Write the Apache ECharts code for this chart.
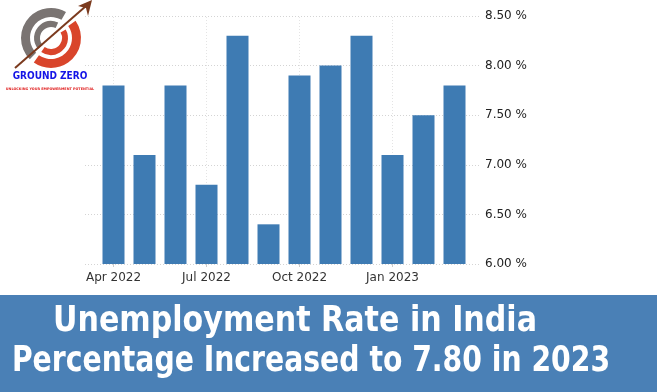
<!DOCTYPE html>
<html>
<head>
<meta charset="utf-8">
<script src="https://cdn.jsdelivr.net/npm/echarts@6/dist/echarts.min.js"></script>
<style>
html,body{margin:0;padding:0;background:#fff;}
#c{width:657px;height:392px;}
</style>
</head>
<body>
<div id="c"></div>
<script>
const categories = ['Apr 2022','May 2022','Jun 2022','Jul 2022','Aug 2022','Sep 2022','Oct 2022','Nov 2022','Dec 2022','Jan 2023','Feb 2023','Mar 2023'];
const rates = [7.8, 7.1, 7.8, 6.8, 8.3, 6.4, 7.9, 8.0, 8.3, 7.1, 7.5, 7.8];
const yTicks = [6.0, 6.5, 7.0, 7.5, 8.0, 8.5];
const titleLines = ['Unemployment Rate in India', 'Percentage Increased to 7.80 in 2023'];
const brandName = 'GROUND ZERO';
const brandTag = 'UNLOCKING YOUR EMPOWERMENT POTENTIAL';
const markedMonths = ['Apr 2022','Jul 2022','Oct 2022','Jan 2023'];

const chart = echarts.init(document.getElementById('c'), null, {renderer:'canvas'});
const deg = Math.PI/180;
const yMin = yTicks[0], yMax = yTicks[yTicks.length-1], yStep = yTicks[1]-yTicks[0];
const titleFont = '"DejaVu Sans Condensed", sans-serif';

const option = {
  backgroundColor: '#fff',
  animation: false,
  grid: [
    {left: 85, right: 177, top: 16, bottom: 128},
    {left: 98, right: 187, top: 16, bottom: 128}
  ],
  xAxis: [
    {gridIndex:0, type:'category', data: categories, show:false},
    {gridIndex:1, type:'category', data: categories,
      axisLine:{show:false},
      axisTick:{show:true, alignWithLabel:true, interval:2, length:3, lineStyle:{color:'#ccc'}},
      axisLabel:{interval:2, color:'#333', fontSize:12, fontFamily:'DejaVu Sans', margin:8},
      splitLine:{show:false}}
  ],
  yAxis: [
    {gridIndex:0, type:'value', position:'right', min:yMin, max:yMax, interval:yStep,
      axisLine:{show:false}, axisTick:{show:false},
      axisLabel:{color:'#222', fontSize:12, fontFamily:'DejaVu Sans', margin:5,
        formatter: v => v.toFixed(2) + ' %'},
      splitLine:{show:true, lineStyle:{color:'#d4d4d4', type:[1,2], width:1}}},
    {gridIndex:1, type:'value', min:yMin, max:yMax, interval:yStep, show:false}
  ],
  series: [
    {type:'line', xAxisIndex:1, yAxisIndex:1, data: [], z:1, silent:true,
      markLine:{silent:true, symbol:'none', label:{show:false}, z:1,
        lineStyle:{color:'#e4e4e4', type:[1,2], width:1},
        data: markedMonths.map(m => ({xAxis: m}))}},
    {type:'bar', xAxisIndex:1, yAxisIndex:1, data: rates, barWidth:22, z:3,
      itemStyle:{color:'#3e7bb3'}}
  ],
  graphic: [
    {type:'rect', left:0, top:295, shape:{width:657, height:97}, style:{fill:'#4a80b6'}, z:1},
    {type:'text', x:295, y:322, scaleX:0.93, style:{text:titleLines[0], fill:'#fff', fontSize:36, fontWeight:'bold',
      fontFamily:titleFont, textAlign:'center', textVerticalAlign:'middle'}, z:2},
    {type:'text', x:311, y:362, scaleX:0.873, style:{text:titleLines[1], fill:'#fff', fontSize:36, fontWeight:'bold',
      fontFamily:titleFont, textAlign:'center', textVerticalAlign:'middle'}, z:2},
    // logo rings
    {type:'sector', shape:{cx:51, cy:38, r:30, r0:21, startAngle:135*deg, endAngle:300*deg, clockwise:true}, style:{fill:'#7a7472'}, z:3},
    {type:'sector', shape:{cx:51, cy:38, r:17, r0:11, startAngle:140*deg, endAngle:295*deg, clockwise:true}, style:{fill:'#7a7472'}, z:3},
    {type:'sector', shape:{cx:51, cy:38, r:30, r0:21, startAngle:-35*deg, endAngle:125*deg, clockwise:true}, style:{fill:'#d9452b'}, z:3},
    {type:'sector', shape:{cx:51, cy:38, r:17, r0:11, startAngle:-30*deg, endAngle:125*deg, clockwise:true}, style:{fill:'#d9452b'}, z:3},
    {type:'line', shape:{x1:15, y1:68, x2:86, y2:6}, style:{stroke:'#7b3a1e', lineWidth:2}, z:4},
    {type:'polygon', shape:{points:[[92,0],[78,6],[86,8],[88,16]]}, style:{fill:'#7b3a1e'}, z:4},
    {type:'text', x:50, y:76, style:{text:brandName, fill:'#1414e6', fontSize:10, fontWeight:'bold',
      fontFamily:'DejaVu Sans Condensed', textAlign:'center', textVerticalAlign:'middle'}, z:4},
    {type:'text', x:50, y:89, style:{text:brandTag, fill:'#e02020', fontSize:3.4, fontWeight:'bold',
      fontFamily:'DejaVu Sans', textAlign:'center', textVerticalAlign:'middle'}, z:4}
  ]
};
chart.setOption(option);
</script>
</body>
</html>
